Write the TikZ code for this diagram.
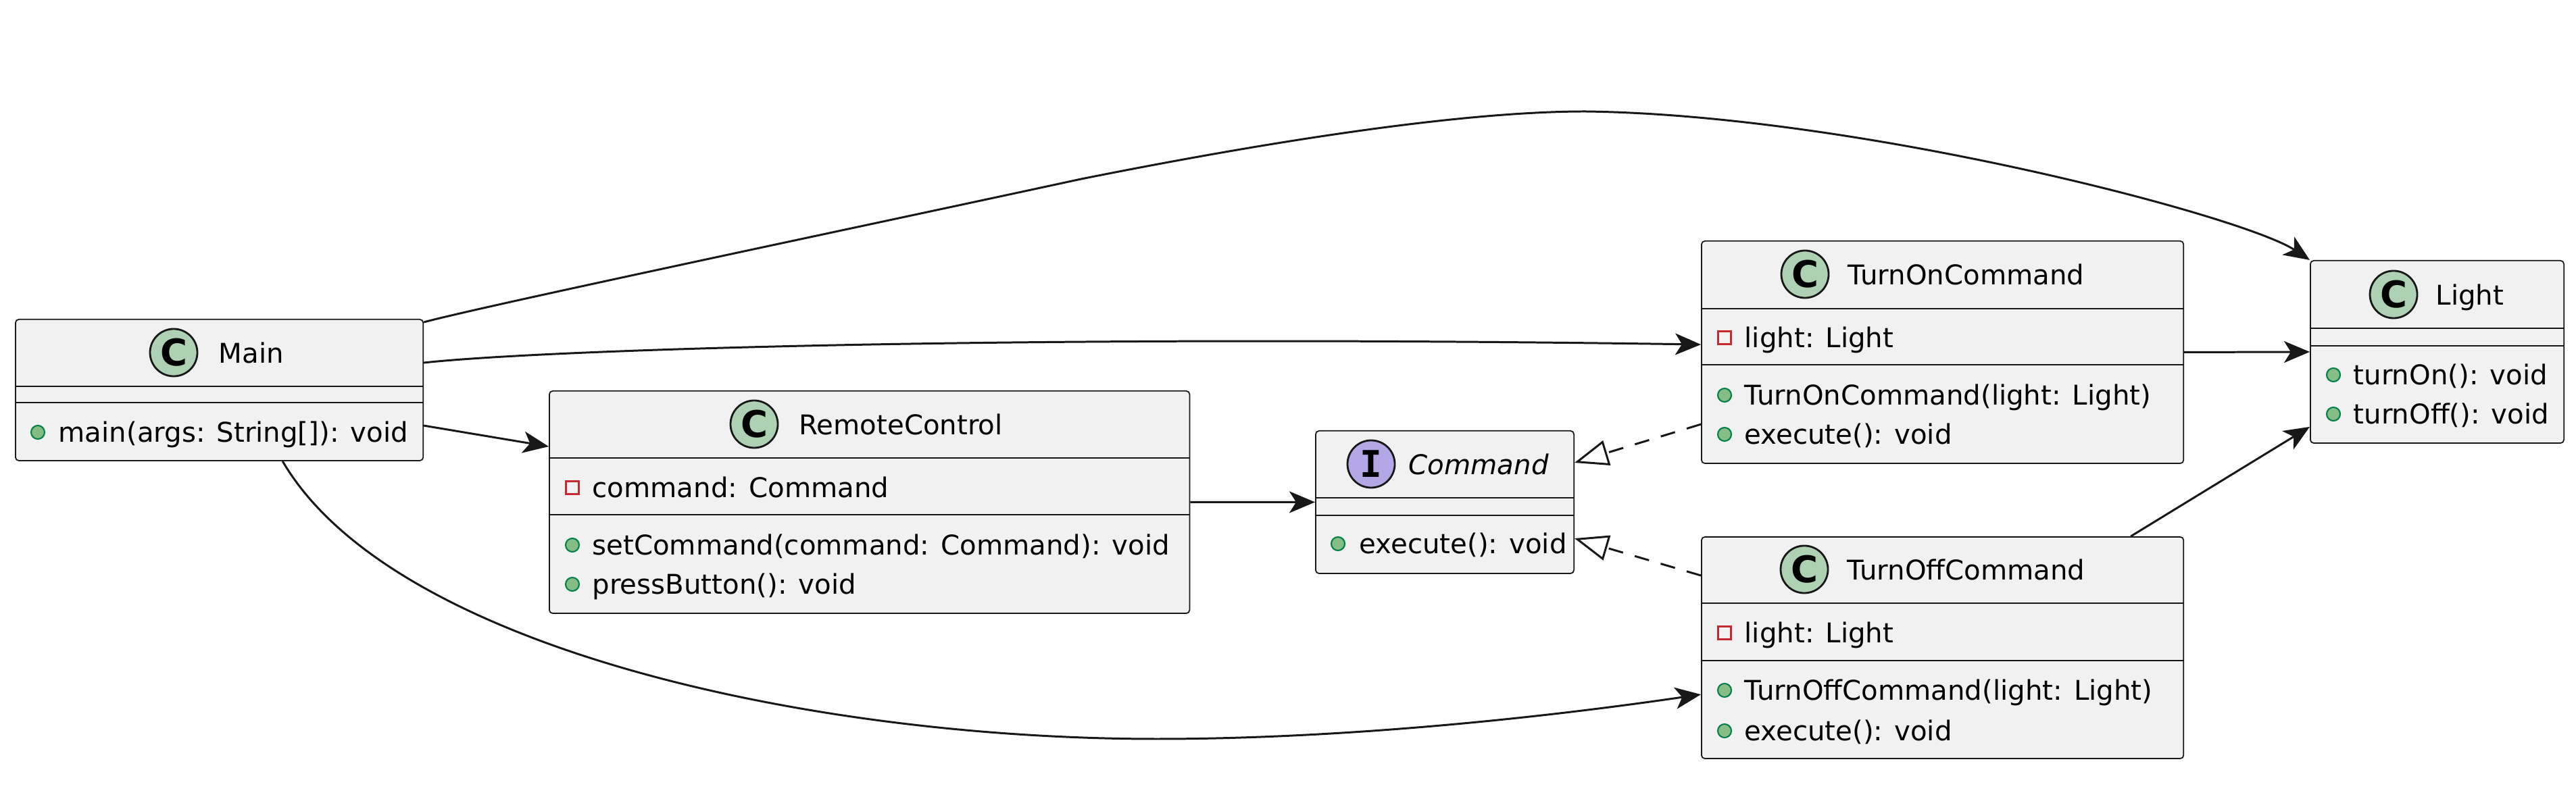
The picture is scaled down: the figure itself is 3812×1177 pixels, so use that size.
\documentclass[tikz,border=0pt]{standalone}
\usepackage{fontspec}
\setmainfont{DejaVu Sans}
\newfontfamily\badgemono{DejaVu Sans Mono}
\usetikzlibrary{arrows.meta}
\definecolor{boxfill}{HTML}{F1F1F1}
\definecolor{boxline}{HTML}{181818}
\definecolor{cfill}{HTML}{ADD1B2}
\definecolor{ifill}{HTML}{B4A7E5}
\definecolor{mfill}{HTML}{84BE84}
\definecolor{mline}{HTML}{038048}
\definecolor{fline}{HTML}{C82930}
\newcommand\umlfont{\fontsize{11.45pt}{14pt}\selectfont}
\begin{document}
\begin{tikzpicture}[x=0.01cm, y=-0.01cm,
  classbox/.style={draw=boxline, fill=boxfill, line width=0.5pt, rounded corners=0.05cm, anchor=north west, inner sep=0pt},
  sepline/.style={draw=boxline, line width=0.5pt},
  cbadge/.style={circle, draw=boxline, fill=cfill, line width=0.8pt, minimum size=0.7cm, inner sep=0pt, font=\fontsize{15.5pt}{15.5pt}\selectfont\bfseries},
  ibadge/.style={circle, draw=boxline, fill=ifill, line width=0.8pt, minimum size=0.7cm, inner sep=0pt, font=\badgemono\fontsize{15.5pt}{15.5pt}\selectfont\bfseries},
  txt/.style={anchor=base west, inner sep=0pt, font=\umlfont},
  mdot/.style={circle, fill=mfill, draw=mline, line width=0.6pt, minimum size=0.2cm, inner sep=0pt},
  fsq/.style={rectangle, draw=fline, line width=0.6pt, minimum size=0.19cm, inner sep=0pt},
  conn/.style={draw=boxline, line width=0.85pt, -{Stealth[length=0.38cm, width=0.32cm, inset=0.1cm]}},
  real/.style={draw=boxline, line width=0.85pt, dash pattern=on 0.22cm off 0.18cm, -{Triangle[open, length=0.5cm, width=0.38cm]}}
]
\useasboundingbox (0,0) rectangle (3812,1177);

% ---------- Main ----------
\node[classbox, minimum width=6.03cm, minimum height=2.09cm] (main) at (22,472) {};
\draw[sepline] (main.west |- 0,572) -- (main.east |- 0,572);
\draw[sepline] (main.west |- 0,596) -- (main.east |- 0,596);
\node[cbadge] (mainB) at (257,522) {C};
\node[txt] (mainT) at (323,538) {Main};
\node[mdot] (mainI1) at (56,640) {};
\node[txt] (mainM1) at (86,655) {main(args: String[]): void};

% ---------- RemoteControl ----------
\node[classbox, minimum width=9.47cm, minimum height=3.29cm] (rc) at (812,578) {};
\draw[sepline] (rc.west |- 0,678) -- (rc.east |- 0,678);
\draw[sepline] (rc.west |- 0,762) -- (rc.east |- 0,762);
\node[cbadge] (rcB) at (1116,628) {C};
\node[txt] (rcT) at (1182,644) {RemoteControl};
\node[fsq] (rcI0) at (847,722) {};
\node[txt] (rcF1) at (876,737) {command: Command};
\node[mdot] (rcI1) at (847,807) {};
\node[txt] (rcM1) at (876,822) {setCommand(command: Command): void};
\node[mdot] (rcI2) at (847,865) {};
\node[txt] (rcM2) at (876,880) {pressButton(): void};

% ---------- Command ----------
\node[classbox, minimum width=3.82cm, minimum height=2.11cm] (cmd) at (1946,637) {};
\draw[sepline] (cmd.west |- 0,737) -- (cmd.east |- 0,737);
\draw[sepline] (cmd.west |- 0,763) -- (cmd.east |- 0,763);
\node[ibadge] (cmdB) at (2029,687) {I};
\node[txt] (cmdT) at (2084,703) {\itshape Command};
\node[mdot] (cmdI1) at (1980,805) {};
\node[txt] (cmdM1) at (2011,820) {execute(): void};

% ---------- TurnOnCommand ----------
\node[classbox, minimum width=7.13cm, minimum height=3.29cm] (on) at (2517,356) {};
\draw[sepline] (on.west |- 0,457) -- (on.east |- 0,457);
\draw[sepline] (on.west |- 0,540) -- (on.east |- 0,540);
\node[cbadge] (onB) at (2671,406) {C};
\node[txt] (onT) at (2734,422) {TurnOnCommand};
\node[fsq] (onI0) at (2552,500) {};
\node[txt] (onF1) at (2581,515) {light: Light};
\node[mdot] (onI1) at (2552,585) {};
\node[txt] (onM1) at (2581,600) {TurnOnCommand(light: Light)};
\node[mdot] (onI2) at (2552,643) {};
\node[txt] (onM2) at (2581,658) {execute(): void};

% ---------- TurnOffCommand ----------
\node[classbox, minimum width=7.13cm, minimum height=3.28cm] (off) at (2517,794) {};
\draw[sepline] (off.west |- 0,893) -- (off.east |- 0,893);
\draw[sepline] (off.west |- 0,978) -- (off.east |- 0,978);
\node[cbadge] (offB) at (2670,843) {C};
\node[txt] (offT) at (2733,859) {TurnOffCommand};
\node[fsq] (offI0) at (2552,937) {};
\node[txt] (offF1) at (2581,952) {light: Light};
\node[mdot] (offI1) at (2552,1022) {};
\node[txt] (offM1) at (2581,1037) {TurnOffCommand(light: Light)};
\node[mdot] (offI2) at (2552,1082) {};
\node[txt] (offM2) at (2581,1097) {execute(): void};

% ---------- Light ----------
\node[classbox, minimum width=3.75cm, minimum height=2.70cm] (light) at (3418,385) {};
\draw[sepline] (light.west |- 0,486) -- (light.east |- 0,486);
\draw[sepline] (light.west |- 0,512) -- (light.east |- 0,512);
\node[cbadge] (lightB) at (3542,436) {C};
\node[txt] (lightT) at (3604,452) {Light};
\node[mdot] (lightI1) at (3453,555) {};
\node[txt] (lightM1) at (3482,570) {turnOn(): void};
\node[mdot] (lightI2) at (3453,613) {};
\node[txt] (lightM2) at (3482,628) {turnOff(): void};

% ---------- connectors ----------
\draw[conn] ([yshift=-0.05cm]main.north east) .. controls (720,452) and (1300,330) .. (1600,265)
  .. controls (1850,215) and (2150,165) .. (2346,165)
  .. controls (2750,170) and (3320,320) .. (light.north west);
\draw[conn] ([yshift=-0.65cm]main.north east) .. controls (800,518) and (1500,495) .. ([yshift=-1.54cm]on.north west);
\draw[conn] ([yshift=-1.58cm]main.north east) -- ([yshift=-0.83cm]rc.north west);
\draw[conn] ([xshift=3.96cm]main.south west) .. controls (580,960) and (1200,1094) .. (1712,1094)
  .. controls (2000,1094) and (2300,1060) .. ([yshift=-2.34cm]off.north west);
\draw[conn] (rc.east) -- (cmd.west);
\draw[conn] (on.east) -- (light.west);
\draw[conn] ([xshift=-0.79cm]off.north east) -- ([yshift=0.25cm]light.south west);
\draw[real] ([yshift=-2.72cm]on.north west) -- ([yshift=-0.48cm]cmd.north east);
\draw[real] ([yshift=-0.58cm]off.north west) -- ([yshift=-1.60cm]cmd.north east);
\end{tikzpicture}
\end{document}
